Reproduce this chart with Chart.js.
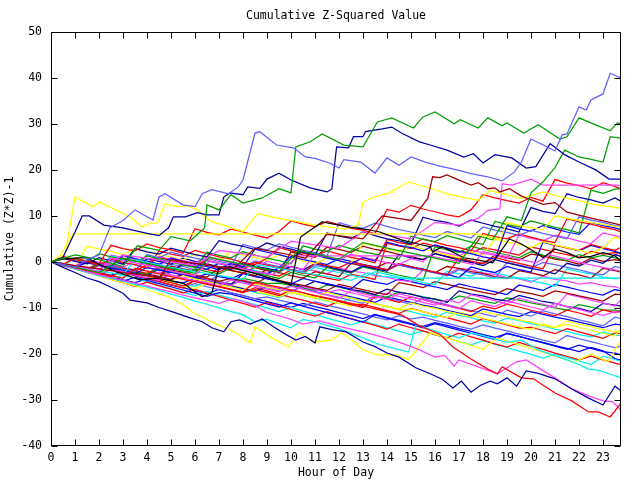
<!DOCTYPE html>
<html>
<head>
<meta charset="utf-8">
<script src="https://cdn.jsdelivr.net/npm/chart.js@4.4.1/dist/chart.umd.min.js"></script>
<style>
  body { margin: 0; background: #fff; }
  canvas { display: block; }
</style>
</head>
<body>
<canvas id="chart" width="640" height="480"></canvas>
<script>
// hours of day, sampled every half hour (last sample at 23:45)
const halfHours = [0,0.5,1,1.5,2,2.5,3,3.5,4,4.5,5,5.5,6,6.5,7,7.5,8,8.5,9,9.5,10,10.5,11,11.5,
  12,12.5,13,13.5,14,14.5,15,15.5,16,16.5,17,17.5,18,18.5,19,19.5,20,20.5,21,21.5,22,22.5,23,23.5,23.75];

const yTicks = [-40,-30,-20,-10,0,10,20,30,40,50];

// traced lines, [hour, cumulative value]
const topViolet = [[0,0],[0.5,-0.6],[1,-1.2],[1.5,0.5],[2,1.5],[2.45,7.4],[3,9],[3.5,11.3],[4,9.8],[4.25,9.1],[4.5,14.1],[4.75,14.8],[5.5,12.4],[6,12],[6.3,14.8],[6.7,15.7],[7.4,14.8],[7.8,16.3],[8,17.8],[8.5,28],[8.7,28.3],[9.4,25.4],[10.1,24.8],[10.6,22.8],[11,22.5],[11.6,21.5],[12,20.4],[12.2,22.2],[12.9,21.7],[13.5,19.3],[14,22.6],[14.5,21],[15,22.8],[15.6,21.7],[16.2,20.8],[17,19.9],[17.5,19.2],[18.2,18.5],[18.8,17.6],[19.3,19.5],[19.6,21.7],[20,26.7],[20.6,25.2],[21,24.1],[21.3,27.6],[21.5,27.8],[22,33.7],[22.3,33],[22.5,35.2],[23,36.5],[23.3,41],[23.75,40]];
const topGreen = [[0,0],[1,1.5],[2,0.5],[3,-1],[3.6,3.5],[4.5,2.5],[5,5.5],[5.8,4.6],[6.4,7.4],[6.5,12.4],[7,11.3],[7.5,14.6],[8,12.8],[8.8,13.9],[9.5,15.9],[10,15],[10.2,25],[10.8,26.1],[11.3,27.8],[12.2,25.4],[13,25],[13.6,30.4],[14.2,31.3],[15.1,29.1],[15.5,31.5],[16,32.6],[16.8,30],[17.05,30.9],[17.8,29.1],[18.2,31.3],[18.8,29.6],[19,30.2],[19.7,28],[20.3,29.8],[21.2,26.7],[21.5,27.2],[22,31.3],[22.6,30],[23.3,28.5],[23.6,30.2],[23.75,30]];
const riseGreen = [[0,0],[1,-1.2],[2,-2.3],[3,0.8],[4,-0.3],[5,-1.4],[6,-2.5],[6.6,1],[7.5,0],[8.5,-1.1],[9.5,-2.2],[10.3,2.5],[11,1.7],[12,0.6],[13,4.2],[14,3],[15,1.9],[16,0.8],[17,-0.3],[17.8,5.6],[18.4,4.8],[19,9.8],[19.6,9],[20,15],[20.5,17.4],[21,20.5],[21.4,24.3],[22,22.8],[22.5,22.3],[23,21.7],[23.3,27.2],[23.75,26.9]];
const topNavy = [[0,0],[0.5,1],[1,6.5],[1.3,10],[1.6,10],[2.2,8],[3,7.4],[3.5,6.8],[4,6.2],[4.5,5.7],[4.9,7.4],[5.1,9.8],[5.6,9.8],[6.1,10.7],[6.5,10.2],[7,10.2],[7.2,14.1],[7.45,15],[8,14.6],[8.2,16.3],[8.7,16],[9,18],[9.5,19.3],[10,17.8],[10.8,16.1],[11.5,15.2],[11.7,15.8],[11.9,25],[12.4,24.8],[12.6,27.2],[13,27.2],[13.1,28.3],[13.8,28.9],[14.2,29.3],[14.6,28],[15.35,26.1],[15.8,25.4],[16.5,24.3],[17.2,22.8],[17.6,23.5],[18,21.5],[18.5,23.3],[19.2,22.6],[19.8,20.4],[20.2,20.7],[20.8,25.7],[21.4,23.3],[22,21.7],[22.7,20],[23.25,18],[23.75,18]];
const maroonJump = [[0,0],[1,-0.8],[2,-1.5],[3,-2.3],[4,-3],[4.5,-3.5],[5,0.5],[6,-0.3],[7,-1],[7.6,-1.5],[8.5,3],[9.3,2.2],[10,1.5],[10.6,0.8],[11.5,6],[12.3,5.5],[13,5],[13.8,10],[14.4,9.5],[15,9],[15.7,13.8],[15.9,18.5],[16.2,18.3],[16.5,18.9],[16.9,18],[17.5,16.7],[17.8,17.2],[18.2,15.9],[18.5,16.1],[18.7,15.2],[19.1,15.9],[19.6,14.3],[20.5,12.5],[21,12.9],[21.5,10.8],[22.5,9.5],[23.2,8.7],[23.75,8]];
const blackLine = [[0,0],[0.5,0.6],[1.1,0.9],[1.5,0.9],[2.1,-0.8],[2.75,-2.2],[3.7,-3.9],[4.4,-3.5],[5.5,-4.6],[6.3,-7.6],[6.7,-6.7],[7,-1.3],[7.45,-1.1],[8.4,-2.4],[9.6,-4.3],[10,-5],[10.4,5.4],[11.3,8.7],[12,8],[12.5,7.5],[13.2,7],[13.7,6.5],[14.6,4.8],[15.2,4],[15.8,3.3],[15.9,2.2],[16.3,3.3],[17.2,0.9],[17.8,0.4],[18.4,-0.2],[18.7,2],[19.1,5],[19.6,3.9],[20.3,1.7],[20.5,0.9],[21,2.8],[21.5,2],[22,0.9],[22.5,1.2],[23,2],[23.5,1.3],[23.75,0.2]];
const flatYellow = [[0,0],[0.4,1.5],[0.9,6.1],[17.7,6.1],[18.2,5.5],[18.7,5],[19,8.5],[19.8,7.6],[20.5,7],[21,10],[21.8,9.2],[22.6,8.5],[23.2,8],[23.75,7.5]];
const peakYellow = [[0,0],[0.3,0.5],[0.6,2],[1,14.1],[1.75,12],[2,13],[2.7,11.3],[3.3,9.8],[3.8,7.6],[4.1,8.3],[4.45,8.5],[4.75,12.6],[5.3,12],[5.65,12.2],[6.1,11.3],[6.4,9.8],[6.7,8.7],[7.2,8],[8,6.6],[8.6,10.5],[9.3,9.7],[10,9],[10.8,8.2],[11.5,7.6],[12.3,7.2],[12.8,8],[13,13],[13.4,14],[14.1,15],[14.9,17.4],[15.8,16],[16.5,14.8],[17.2,14],[17.8,13.4],[18.3,15.5],[19,14.6],[19.6,13.8],[20.5,15.2],[21.3,14],[22,13.3],[22.6,12.5],[23.3,12],[23.75,11.6]];
const flatPink = [[0,0],[1,-1],[2,-2.1],[2.5,0.8],[3.5,-0.2],[4.5,-1.3],[5,-2],[6,-3],[6.6,0.2],[7.5,-0.9],[8.4,-2],[9.2,-2.8],[9.8,-1],[10.3,1.3],[15.8,1.3],[16.3,0.7],[17,0.1],[17.6,-0.6],[18,2.2],[18.7,1.5],[19.5,0.6],[20.2,-0.2],[20.8,1.5],[21.5,0.6],[22.2,-0.3],[23,-1.2],[23.75,-2]];
const highPink = [[0,0],[1,-0.8],[2,-1.6],[3,1.5],[4,0.8],[5,0],[6,-0.8],[7,2.5],[8,1.8],[9,1],[10,4.5],[11,3.7],[12,3],[13,6.5],[14,5.8],[15,5],[16,8.6],[17,8],[17.8,9.5],[18.2,11.2],[18.7,11.5],[18.8,17],[19.2,16.7],[20,18],[20.5,16.7],[23.75,16.7]];
const flatCyan = [[0,0],[1,-1],[2,-2],[3,-2.8],[3.5,0.5],[4.3,-0.4],[5,-1.2],[6,-2.1],[7,-3],[8,-3.8],[8.6,-0.6],[9.5,-1.4],[10.5,-2.3],[11.5,-3.2],[12.5,-4],[13.2,-2.4],[13.8,-3.1],[14.5,-3.5],[23.75,-3.5]];
const lowNavy = [[0,0],[0.5,-1.2],[1,-2.3],[1.5,-3.5],[2,-4.3],[2.5,-5.5],[3,-6.8],[3.3,-8.3],[4,-8.9],[4.5,-9.9],[5.1,-10.9],[5.7,-12],[6.3,-13],[6.7,-14.3],[7.2,-15.2],[7.5,-13],[7.85,-12.6],[8.3,-13.5],[8.8,-12.4],[9.3,-14.2],[9.8,-15.8],[10.2,-17],[10.6,-16.2],[11,-17.6],[11.2,-14.1],[11.7,-14.7],[12.3,-15.2],[13,-17.4],[13.5,-18.4],[14,-19.8],[14.5,-20.7],[15.2,-23],[15.8,-24.3],[16.3,-25.5],[16.75,-27.4],[17.1,-25.9],[17.5,-28.3],[17.9,-26.8],[18.3,-25.9],[18.6,-26.5],[19,-25.2],[19.4,-27],[19.8,-23.7],[20.3,-24.2],[21,-25.4],[21.7,-27.6],[22.4,-29.6],[23,-31.1],[23.5,-27],[23.75,-28]];
const lowRed = [[0,0],[0.5,-0.7],[1,-1.2],[1.6,-2],[2,-2.4],[2.6,-3.1],[3,-3.5],[3.5,-1.4],[4,-2],[4.6,-2.7],[5,-3.2],[5.6,-3.9],[6,-4.3],[6.6,-5],[7,-5.4],[7.5,-6],[8,-6.5],[8.5,-4.4],[9,-5],[9.6,-5.6],[10,-6.1],[10.5,-6.7],[11,-7.3],[11.6,-7.9],[12,-8.4],[12.5,-9],[13,-9.6],[13.5,-10.2],[14,-10.8],[14.6,-11.5],[15.35,-13.9],[16.2,-15.7],[16.75,-18.5],[17.5,-21.1],[18.2,-23.3],[18.6,-24.3],[18.8,-22.8],[19.6,-25.2],[20.1,-25.4],[21,-28.5],[21.7,-30.2],[22.4,-32.6],[22.8,-32.6],[23.3,-33.7],[23.75,-30.7]];
const lowPink = [[0,0],[0.5,-0.7],[1,-1.4],[1.5,-2.1],[2,-2.8],[2.5,-3.4],[3,-4],[3.5,-4.6],[4,-5.2],[4.5,-5.9],[5,-6.5],[5.5,-7.2],[6,-7.8],[6.5,-8.4],[7,-9],[7.6,-8],[8,-8.6],[8.5,-9.5],[9,-11],[9.5,-11.7],[10,-12.5],[10.5,-13.5],[11.2,-12.8],[11.6,-13.4],[12,-14],[12.5,-14.6],[13,-15.2],[13.5,-15.9],[14,-16.6],[14.7,-17.8],[15.35,-19.1],[16,-20.7],[16.4,-20.3],[16.8,-22.6],[17,-21.3],[17.8,-22.8],[18.6,-24.3],[19,-23],[19.4,-21.7],[19.8,-21.3],[20.4,-23.3],[21,-25.2],[21.7,-27.6],[22.4,-29.1],[23,-30.2],[23.4,-30.4],[23.75,-32.2]];
const lowCyan = [[0,0],[0.5,-0.8],[1,-1.5],[1.5,-2.3],[2,-3],[2.5,-3.6],[3,-4.2],[3.5,-4.9],[4,-5.5],[4.5,-6.2],[5,-7],[5.5,-7.7],[6,-8.5],[6.5,-9.2],[7,-10],[7.5,-10.8],[8,-11.5],[8.5,-13],[9,-12.5],[9.5,-13.4],[10,-14.3],[10.5,-12.5],[11,-13],[11.5,-13.8],[12,-14.5],[12.5,-15.5],[13,-16.5],[13.7,-18],[14.3,-18.8],[14.9,-19.6],[15.2,-13.7],[15.6,-14.3],[16,-15],[16.5,-15.8],[17,-16.5],[17.5,-15.5],[18,-16],[18.5,-16.8],[19,-17.5],[19.6,-17],[20.3,-19.1],[20.9,-20.2],[21.5,-21.3],[22,-22.3],[22.4,-23.3],[22.8,-23.5],[23.25,-24.3],[23.75,-25.2]];
const lowYellow = [[0,0],[0.5,-0.7],[1,-1.5],[1.5,-2.2],[2,-3],[2.5,-3.8],[3,-4.5],[3.5,-5.2],[4,-6],[4.5,-6.9],[5,-7.8],[5.5,-9.3],[5.9,-10.9],[6.5,-12.5],[7,-13.8],[7.5,-14.8],[7.85,-15.9],[8.3,-17.6],[8.5,-14.1],[9.2,-16.5],[9.9,-18.5],[10.3,-15.4],[11,-17.4],[11.7,-17],[12.1,-15.4],[12.5,-16.8],[13,-19.1],[13.6,-20.2],[14.4,-20.2],[14.9,-21.3],[15.8,-15.4],[16.5,-16.5],[17.3,-17.8],[18,-19],[18.6,-16.5],[19.5,-18],[20.3,-19.3],[21,-20.5],[21.8,-21.8],[22.5,-20],[23.2,-21.7],[23.75,-17]];

// the rest of the bundle, one value per half hour
const red1 = [0,-0.5,0.8,0.2,-0.4,3.6,2.9,2.4,3.9,3.1,2.6,1.9,7.2,6.4,5.9,7.1,6.5,5.8,5.2,6.6,8.9,8.2,7.6,8.8,8.1,7.3,6.9,6.1,11.4,10.8,12.3,11.5,10.9,10.2,9.8,11.3,14.6,13.9,13.3,12.8,14.0,13.2,17.9,17.1,16.6,15.9,17.2,16.4,15.8];
const navy1 = [0,0.8,0.1,-0.4,0.9,0.2,-0.5,2.9,2.2,1.7,3.0,2.3,1.6,1.1,4.6,3.9,3.4,2.7,4.1,3.3,2.8,2.1,1.5,6.3,5.6,5.1,6.5,5.7,5.0,4.6,3.9,9.7,9.0,8.6,7.8,9.1,8.4,7.7,7.2,6.5,11.8,11.0,10.5,14.8,14.0,13.5,12.8,13.9,13.2];
const green1 = [0,-0.6,0.7,0.1,1.8,1.1,0.6,-0.1,1.3,0.6,0.0,-0.7,-1.2,2.1,1.4,0.9,2.2,1.5,0.8,0.3,-0.4,3.5,2.8,2.3,3.6,2.9,2.2,1.7,1.0,0.6,5.6,4.9,4.4,5.7,5.0,4.3,3.8,8.8,8.1,7.6,8.9,8.2,7.5,7.0,6.3,15.6,14.9,15.8,15.9];
const violet1 = [0,-0.5,-1.1,0.3,-0.4,-0.9,-1.6,-2.1,1.6,0.9,2.1,1.4,0.8,0.3,-0.4,-0.9,3.8,3.1,2.6,3.9,3.2,2.5,2.0,1.3,8.5,7.8,7.3,8.4,7.7,7.0,6.5,5.8,5.3,6.6,5.9,5.2,7.6,6.9,6.4,5.7,6.9,6.2,5.6,5.0,9.8,9.1,8.6,7.9,7.7];
const red2 = [0,1.2,0.5,0.0,-0.7,0.6,-0.1,-0.6,-1.3,2.4,1.7,1.2,2.5,1.8,1.1,0.6,-0.1,-0.6,0.8,3.1,2.4,1.9,1.2,2.4,1.7,1.0,0.5,-0.2,4.9,4.2,3.7,5.0,4.3,3.6,3.1,2.4,6.2,5.5,5.0,6.1,5.4,4.7,4.2,9.4,8.7,8.2,7.5,7.0,6.5];
const blue1 = [0,-0.7,-1.2,0.2,-0.5,-1.1,1.4,0.7,0.2,-0.5,0.8,0.1,-0.5,-1.0,-1.7,-0.4,-1.1,2.8,2.1,1.6,0.9,2.2,1.5,0.8,0.3,-0.4,0.9,0.2,4.3,3.6,3.1,2.4,3.7,3.0,2.3,1.8,1.1,0.6,7.9,7.2,6.7,7.9,7.2,6.5,6.0,8.6,7.9,7.4,7.0];
const pink1 = [0,-0.4,-0.9,0.5,-0.1,-0.6,-1.2,0.2,-0.4,-1.0,0.9,0.3,-0.2,1.1,0.4,-0.1,-0.7,-1.2,0.1,-0.5,-1.1,-1.6,1.6,1.0,0.4,1.7,1.0,0.5,-0.2,-0.6,0.7,0.0,2.5,1.9,1.3,2.6,1.9,1.4,0.7,5.8,5.1,4.6,5.8,5.2,4.5,4.0,6.3,5.7,5.4];
const yellow1 = [0,-0.6,-1.0,3.4,2.8,2.3,1.6,2.9,2.2,1.6,1.1,0.4,1.7,1.0,0.4,2.2,1.5,1.0,0.3,1.5,0.8,0.2,-0.4,0.9,0.2,-0.3,4.1,3.4,2.9,2.2,3.5,2.8,2.2,1.6,0.9,2.2,1.5,5.0,4.3,3.8,3.1,4.4,3.7,3.1,2.5,1.8,3.1,5.4,5.0];
const red3 = [0,-0.5,-1.0,0.3,-0.3,-0.9,-1.4,-2.0,-0.6,1.0,0.3,-0.2,-0.9,0.4,-0.3,-0.8,-1.5,-0.1,-0.7,-1.3,-1.8,-2.5,-0.2,-0.8,-1.3,0.0,-0.6,-1.2,-1.7,-0.4,-1.0,-1.7,-2.2,-2.8,0.9,0.2,-0.3,1.0,0.3,-0.3,-0.9,-1.5,3.7,3.0,2.5,3.8,3.1,2.5,3.2];
const blue2 = [0,-0.8,-1.3,-0.1,-0.7,-1.4,-1.8,-2.6,-1.2,-1.8,-2.3,-0.4,-1.0,-1.6,-0.3,-1.0,-1.4,-2.1,-2.6,-1.3,1.2,0.5,0.0,-0.6,0.7,0.1,-0.6,-1.1,-1.7,-0.4,-1.1,-1.5,-2.3,-2.7,-3.4,-1.1,-1.8,-2.3,-1.0,-1.7,-2.2,4.3,3.6,3.1,2.4,3.6,2.9,2.3,1.9];
const navy2 = [0,-0.3,-0.9,0.4,-0.2,-0.7,-1.3,-1.8,0.7,0.1,-0.5,0.8,0.1,-0.4,-1.1,-1.6,-0.2,-0.9,-1.4,-2.0,-1.0,-1.7,-0.4,-1.0,-1.6,-2.2,-0.9,-1.5,-2.0,1.6,0.9,0.5,1.8,1.1,0.4,-0.1,-0.8,0.5,-0.2,-0.8,-1.4,-1.9,-2.6,-0.3,-0.9,0.4,-0.3,1.6,1.2];
const green2 = [0,-0.6,-1.2,-1.7,-0.5,-1.1,-1.6,-2.2,-2.7,-1.4,-2.0,-2.6,-1.5,-2.1,-2.6,-1.3,-1.9,-2.4,-3.0,-3.6,-2.3,-2.9,-3.5,-1.2,-1.8,-2.4,-1.1,-1.7,-2.3,-2.9,-3.4,-4.0,3.3,2.6,2.1,3.4,2.7,2.1,1.5,0.9,2.2,1.5,0.9,0.3,1.6,0.9,1.4,0.9,0.5];
const violet2 = [0,0.9,0.3,-0.2,-0.8,0.5,-0.2,-0.6,-1.3,-1.8,-0.5,-1.0,-1.7,0.8,0.1,-0.4,-1.1,0.2,-0.5,-1.0,-1.6,-2.1,-0.8,-1.2,-1.9,-2.4,-0.6,-1.2,-1.9,-0.6,-1.3,-1.8,-2.4,-3.0,-1.7,-2.4,-2.8,-3.5,-0.1,-0.7,-1.3,-0.1,-0.6,-1.2,-1.7,-2.4,-2.8,-1.0,-1.3];
const maroon1 = [0,-0.5,-1.1,0.2,-0.4,-0.9,-1.6,-2.0,-0.7,-1.1,-1.8,-2.2,-2.9,-3.3,-1.3,-1.8,-2.5,-1.2,-1.9,-2.3,-3.0,-3.5,-2.1,-2.6,-3.2,-0.3,-0.9,-1.4,-0.1,-0.7,-1.2,-1.8,-2.3,-1.0,-1.4,-2.1,-2.5,-3.2,-3.6,-1.9,-2.4,-3.0,-1.7,-2.4,-2.8,-3.5,-1.4,-1.9,-2.2];
const cyan1 = [0,-0.6,-1.1,-1.8,-2.2,1.3,0.7,0.2,-0.5,0.8,0.2,-0.4,-1.0,-1.5,-0.2,-0.8,-1.4,-1.9,-2.6,-1.3,-1.9,-2.5,-1.2,-1.8,-2.3,-2.9,-3.4,-2.1,-2.7,-3.3,-3.8,-4.5,-4.9,-2.0,-2.6,-3.1,-1.8,-2.4,-3.0,-3.5,-4.1,-4.6,-5.3,-1.5,-2.1,-2.6,-3.3,-3.7,-3.4];
const red4 = [0,-0.4,-1.0,-1.5,-0.3,-0.8,-1.4,-1.9,-2.5,-1.2,-1.8,-0.6,-1.1,-1.7,-2.2,-0.9,-1.4,-2.0,-2.5,-3.1,-1.8,-2.4,-2.9,-3.5,-4.0,-2.7,-3.2,-3.8,4.0,3.5,2.9,4.1,3.5,3.0,2.4,1.9,3.1,2.6,2.0,1.5,3.2,2.7,2.1,1.6,1.0,2.3,1.7,2.0,1.8];
const maroon2 = [0,-0.7,-1.3,-1.9,-0.6,-1.3,-1.7,-2.4,-2.8,-3.5,-0.9,-1.5,-2.0,-0.7,-1.2,-1.9,-2.3,-3.0,-1.7,-2.4,2.2,1.5,1.0,3.2,2.7,2.1,3.4,2.7,2.3,1.6,1.2,0.5,1.8,1.2,0.7,0.0,-0.4,1.5,0.9,0.4,1.7,1.3,0.6,0.2,-0.5,0.8,0.1,0.5,0.2];
const pink2 = [0,-0.4,-1.1,-1.4,-2.1,1.5,0.9,0.6,-0.1,1.2,0.5,0.2,-0.5,-0.8,-1.5,-0.2,-0.9,-1.2,-1.9,-2.2,-1.0,-1.6,-1.9,-2.6,-1.3,-2.0,-2.3,-3.0,-3.3,-4.0,-4.3,-1.8,-2.4,-2.7,-1.4,-1.7,-2.4,-2.7,-3.4,-3.7,-4.4,-3.1,-3.8,-4.1,-4.8,-4.5,-5.1,-5.4,-5.8];
const pink3 = [0,-0.7,-1.3,-2.0,-0.8,-1.5,-2.1,-2.8,-3.4,-2.2,-2.8,-3.5,-4.1,-4.5,-5.2,-3.9,-4.6,-5.2,-5.9,-6.5,-5.3,-5.9,-6.6,-7.2,-7.9,-6.2,-6.9,-7.5,-8.2,-6.9,-7.6,-8.2,-8.9,-9.5,-10.2,-8.4,-9.1,-9.7,-8.5,-9.1,-9.8,-10.4,-9.0,-9.7,-10.3,-11.0,-11.6,-10.8,-11.0];
const yellow2 = [0,-0.5,-1.2,-1.7,-2.4,-1.2,-1.9,-2.4,-3.1,-3.6,-4.3,-3.0,-3.7,-4.2,-4.9,-5.4,-6.1,-4.8,-5.5,-6.0,-6.7,-7.2,-7.9,-6.6,-7.3,-7.8,-8.5,-9.0,-9.7,-10.2,-8.9,-9.6,-10.1,-10.8,-11.3,-12.0,-10.7,-11.4,-11.9,-12.6,-13.1,-13.8,-14.3,-12.8,-13.5,-14.0,-14.7,-15.2,-15.0];
const blue3 = [0,-0.6,-1.2,-1.8,-0.6,-1.1,-1.7,-2.3,-2.9,-1.6,-2.2,-2.8,-3.4,-2.6,-3.2,-3.7,-2.5,-3.1,-3.7,-4.2,-4.8,-3.6,-4.2,-4.7,-5.3,-5.9,-3.8,-4.4,-4.9,-3.7,-4.3,-4.9,-5.4,-6.0,-4.8,-5.4,-5.9,-6.5,-7.1,-5.0,-5.6,-6.2,-4.9,-5.5,-6.1,-6.7,-7.2,-6.0,-6.3];
const maroon3 = [0,-0.5,-1.1,-1.6,-2.2,-1.0,-1.5,-2.1,-2.6,-3.2,-3.8,-2.5,-3.1,-3.6,-4.2,-3.6,-4.1,-4.7,-3.4,-4.0,-4.6,-5.1,-5.7,-6.2,-4.9,-5.5,-6.0,-6.6,-7.1,-4.5,-5.0,-5.6,-4.3,-4.9,-5.5,-6.0,-6.6,-7.1,-5.8,-6.4,-6.9,-7.5,-6.3,-6.8,-7.4,-7.9,-8.5,-7.0,-7.1];
const pink4 = [0,-0.7,-1.3,-2.0,-2.6,-1.4,-2.0,-2.7,-3.3,-4.0,-2.8,-3.5,-3.1,-3.8,-4.4,-5.1,-3.9,-4.6,-5.2,-5.9,-6.5,-5.3,-6.0,-6.6,-6.0,-6.7,-7.3,-8.0,-6.8,-7.5,-8.1,-8.8,-9.4,-8.2,-8.9,-7.1,-7.8,-8.4,-9.1,-7.9,-8.6,-9.2,-9.9,-7.0,-7.6,-8.3,-8.9,-9.6,-8.2];
const navy3 = [0,-0.4,-1.1,-1.5,-2.2,-1.0,-1.7,-2.1,-2.8,-3.2,-3.9,-2.7,-3.4,-3.8,-4.5,-4.9,-2.5,-3.2,-3.6,-4.3,-4.7,-5.4,-4.2,-4.9,-5.3,-6.0,-6.4,-7.1,-5.9,-6.6,-7.0,-7.7,-8.1,-8.8,-6.3,-7.0,-7.4,-8.1,-8.5,-7.3,-7.9,-8.6,-9.0,-9.7,-10.1,-10.8,-9.0,-9.4,-9.6];
const red5 = [0,-0.6,-1.3,-1.9,-2.5,-3.2,-2.0,-2.6,-3.3,-3.9,-4.5,-5.2,-4.0,-4.6,-5.3,-5.9,-6.5,-6.0,-6.6,-7.3,-6.1,-6.7,-7.4,-8.0,-8.6,-9.3,-9.9,-7.5,-8.1,-8.8,-7.6,-8.2,-8.9,-9.5,-10.1,-10.8,-9.6,-10.2,-9.2,-9.8,-10.5,-11.1,-11.7,-10.5,-11.1,-11.8,-10.4,-11.0,-10.6];
const green3 = [0,-0.5,-1.0,-1.6,-0.5,-1.0,-1.6,-2.1,-2.7,-3.2,-2.0,-2.6,-3.1,-3.7,-4.2,-4.8,-3.6,-4.1,-4.7,-4.6,-5.1,-5.7,-6.2,-5.0,-5.5,-6.1,-6.6,-7.2,-7.7,-6.5,-7.0,-7.6,-8.1,-8.7,-7.4,-7.9,-8.5,-9.0,-7.8,-8.3,-8.9,-9.4,-10.0,-10.5,-9.3,-9.8,-10.4,-10.5,-10.8];
const violet3 = [0,-0.7,-1.3,-2.0,-2.6,-1.5,-2.1,-2.8,-3.4,-4.1,-2.2,-2.9,-3.5,-4.2,-3.0,-3.7,-4.3,-5.0,-5.6,-6.3,-5.1,-5.8,-6.4,-7.1,-7.7,-8.4,-9.0,-7.2,-7.9,-8.5,-9.2,-8.0,-8.7,-9.3,-10.0,-10.6,-11.3,-11.9,-10.5,-11.2,-11.8,-10.6,-11.3,-11.9,-12.6,-13.2,-13.9,-12.0,-12.3];
const blue4 = [0,-0.6,-1.2,-1.7,-2.3,-2.9,-1.8,-2.3,-2.9,-3.5,-4.1,-4.6,-3.5,-4.1,-4.7,-5.2,-5.8,-6.4,-5.3,-5.8,-6.4,-5.3,-5.9,-6.5,-7.0,-7.6,-8.2,-8.8,-7.6,-8.2,-8.8,-9.4,-9.9,-10.5,-11.1,-11.7,-10.2,-10.8,-11.4,-11.9,-10.8,-11.4,-12.0,-12.5,-13.1,-13.7,-14.3,-13.5,-13.7];
const yellow3 = [0,-0.6,-1.3,-1.9,-2.5,-3.2,-2.0,-2.6,-3.3,-3.9,-4.5,-5.2,-5.8,-4.6,-5.3,-5.1,-5.7,-6.4,-7.0,-7.6,-6.5,-7.1,-7.7,-8.4,-9.0,-9.6,-8.5,-9.1,-9.7,-10.4,-10.2,-10.8,-11.5,-12.1,-10.9,-11.6,-12.2,-12.8,-13.5,-14.1,-14.7,-13.5,-14.2,-13.6,-14.2,-14.9,-15.5,-16.1,-14.4];
const red6 = [0,-0.7,-1.4,-2.0,-2.7,-1.6,-2.3,-3.0,-3.6,-4.3,-5.0,-5.7,-4.0,-4.7,-5.4,-6.0,-6.7,-5.6,-6.3,-7.0,-7.7,-8.3,-9.0,-9.7,-8.5,-9.2,-9.2,-9.9,-10.6,-11.2,-10.1,-10.8,-11.5,-12.1,-12.8,-13.5,-12.3,-13.0,-13.7,-14.4,-14.2,-14.9,-15.6,-14.5,-15.2,-15.9,-16.6,-15.4,-15.6];
const cyan2 = [0,-0.6,-1.2,-1.8,-2.3,-3.0,-3.5,-2.4,-2.9,-3.6,-4.1,-4.8,-5.3,-4.2,-4.7,-5.4,-5.9,-6.6,-7.1,-7.8,-6.6,-7.3,-7.8,-8.5,-9.0,-7.9,-8.4,-9.1,-9.6,-10.3,-10.8,-11.5,-12.0,-10.9,-11.6,-12.1,-12.8,-13.3,-12.2,-12.7,-13.4,-13.9,-14.6,-15.1,-15.8,-16.3,-15.2,-15.9,-16.0];
const blue5 = [0,-0.7,-1.4,-2.1,-2.8,-3.5,-4.2,-3.3,-4.0,-4.7,-5.4,-6.1,-6.8,-7.5,-6.7,-7.0,-7.7,-8.4,-9.1,-9.8,-8.9,-9.6,-10.3,-11.0,-11.7,-12.4,-13.1,-11.5,-12.2,-12.9,-13.6,-14.3,-13.4,-14.1,-14.8,-15.5,-16.2,-16.9,-15.5,-16.2,-16.9,-17.6,-18.3,-19.0,-18.1,-18.8,-19.5,-19.8,-20.2];
const red7 = [0,-0.8,-1.5,-2.3,-3.0,-3.8,-4.5,-5.3,-4.4,-5.2,-5.9,-6.7,-6.0,-6.8,-7.5,-8.3,-9.0,-9.8,-8.8,-9.6,-10.3,-11.1,-11.8,-10.8,-11.6,-12.3,-13.1,-13.8,-14.6,-13.5,-14.3,-15.0,-15.8,-16.5,-15.5,-16.3,-17.0,-17.8,-18.5,-17.5,-18.3,-19.0,-19.8,-20.5,-21.3,-20.5,-21.3,-22.0,-22.3];
const violet4 = [0,-0.6,-1.3,-1.9,-2.6,-1.7,-2.4,-3.0,-3.7,-4.3,-5.0,-5.6,-4.7,-5.4,-6.0,-6.7,-7.3,-8.0,-7.6,-8.3,-8.9,-9.6,-8.7,-9.4,-10.0,-10.7,-11.3,-12.0,-12.6,-11.7,-12.4,-12.0,-12.7,-13.3,-14.0,-14.6,-13.7,-14.4,-15.0,-15.7,-16.3,-17.0,-17.6,-16.0,-16.7,-17.3,-18.0,-18.6,-18.3];
const cyan3 = [0,-0.7,-1.5,-2.2,-3.0,-3.7,-2.8,-3.6,-4.3,-5.1,-5.8,-6.6,-7.3,-6.4,-7.2,-7.9,-8.5,-9.3,-10.0,-10.8,-9.9,-10.7,-11.4,-12.2,-12.9,-13.7,-12.8,-13.6,-14.3,-15.1,-15.8,-15.0,-15.8,-16.5,-17.3,-18.0,-17.1,-17.9,-18.6,-19.4,-20.1,-20.9,-20.0,-20.8,-21.5,-22.3,-20.5,-21.2,-21.6];
const blue6 = [0,-0.6,-1.3,-1.9,-2.6,-3.2,-3.9,-4.5,-3.7,-4.3,-5.0,-5.6,-6.3,-6.9,-6.0,-6.7,-7.3,-8.0,-8.6,-9.3,-9.9,-9.0,-9.7,-10.3,-11.0,-11.6,-12.3,-11.4,-12.1,-12.7,-13.4,-14.0,-13.2,-13.8,-14.5,-15.1,-15.8,-16.4,-15.6,-16.2,-16.9,-17.5,-18.2,-18.8,-19.5,-18.6,-19.3,-21.0,-21.4];

const palette = {
  red: '#ff0000', maroon: '#a00000', green: '#00a000', blue: '#0000ff', navy: '#0000a0',
  violet: '#6060ff', pink: '#ff40ff', cyan: '#00f0f0', yellow: '#ffff00', black: '#000000'
};

const traced = [
  [topViolet, 'violet'], [topGreen, 'green'], [topNavy, 'navy'], [riseGreen, 'green'],
  [maroonJump, 'maroon'], [blackLine, 'black'], [peakYellow, 'yellow'], [flatYellow, 'yellow'],
  [highPink, 'pink'], [flatPink, 'pink'], [flatCyan, 'cyan'], [lowNavy, 'navy'],
  [lowRed, 'red'], [lowPink, 'pink'], [lowCyan, 'cyan'], [lowYellow, 'yellow']
];
const sampled = [
  [red1, 'red'], [navy1, 'navy'], [green1, 'green'], [violet1, 'violet'], [red2, 'red'], [blue1, 'blue'],
  [pink1, 'pink'], [yellow1, 'yellow'], [red3, 'red'], [blue2, 'blue'], [navy2, 'navy'], [green2, 'green'],
  [violet2, 'violet'], [maroon1, 'maroon'], [cyan1, 'cyan'], [red4, 'red'], [maroon2, 'maroon'], [pink2, 'pink'],
  [pink3, 'pink'], [yellow2, 'yellow'], [blue3, 'blue'], [maroon3, 'maroon'], [pink4, 'pink'], [navy3, 'navy'],
  [red5, 'red'], [green3, 'green'], [violet3, 'violet'], [blue4, 'blue'], [yellow3, 'yellow'], [red6, 'red'],
  [cyan2, 'cyan'], [blue5, 'blue'], [red7, 'red'], [violet4, 'violet'], [cyan3, 'cyan'], [blue6, 'blue']
];

function lineSet(points, colour) {
  return {
    data: points,
    borderColor: palette[colour],
    borderWidth: 1.25,
    pointRadius: 0,
    tension: 0,
    fill: false
  };
}

const datasets = [];
traced.forEach(([pts, c]) => datasets.push(lineSet(pts.map(p => ({ x: p[0], y: p[1] })), c)));
sampled.forEach(([vals, c]) => datasets.push(lineSet(vals.map((v, i) => ({ x: halfHours[i], y: v })), c)));

// gnuplot style frame: box round the plot with tics pointing inwards on all four sides
const innerTics = {
  id: 'innerTics',
  afterDatasetsDraw(chart) {
    const { ctx, chartArea: a, scales } = chart;
    const L = Math.round(a.left) + 0.5, R = Math.round(a.right) - 0.5;
    const T = Math.round(a.top) + 0.5, B = Math.round(a.bottom) - 0.5;
    ctx.save();
    ctx.strokeStyle = '#000';
    ctx.lineWidth = 1;
    ctx.beginPath();
    ctx.rect(L, T, R - L, B - T);
    scales.x.ticks.forEach(t => {
      const px = Math.round(scales.x.getPixelForValue(t.value)) + 0.5;
      ctx.moveTo(px, B); ctx.lineTo(px, B - 6);
      ctx.moveTo(px, T); ctx.lineTo(px, T + 6);
    });
    scales.y.ticks.forEach(t => {
      const py = Math.round(scales.y.getPixelForValue(t.value)) + 0.5;
      ctx.moveTo(L, py); ctx.lineTo(L + 6, py);
      ctx.moveTo(R, py); ctx.lineTo(R - 6, py);
    });
    ctx.stroke();
    ctx.restore();
  }
};

Chart.defaults.font.family = "'DejaVu Sans Mono', monospace";
Chart.defaults.font.size = 11.5;
Chart.defaults.color = '#000';

new Chart(document.getElementById('chart'), {
  type: 'line',
  data: { datasets },
  options: {
    responsive: false,
    animation: false,
    events: [],
    layout: { padding: { left: 0, right: 19, top: 0, bottom: 0 } },
    plugins: {
      legend: { display: false },
      tooltip: { enabled: false },
      title: {
        display: true,
        text: 'Cumulative Z-Squared Value',
        fullSize: false,
        font: { size: 11.5, weight: 'normal' },
        padding: { top: 9, bottom: 9 }
      }
    },
    scales: {
      x: {
        type: 'linear',
        min: 0,
        max: 23.75,
        grid: { display: false, drawTicks: false },
        border: { display: false },
        ticks: { stepSize: 1, includeBounds: false, autoSkip: false, maxRotation: 0, padding: 5 },
        title: { display: true, text: 'Hour of Day', padding: { top: 0, bottom: 0 } },
        afterFit: s => { s.height = 34; }
      },
      y: {
        min: yTicks[0],
        max: yTicks[yTicks.length - 1],
        grid: { display: false, drawTicks: false },
        border: { display: false },
        ticks: { stepSize: 10, padding: 9 },
        title: { display: true, text: 'Cumulative (Z*Z)-1', padding: { top: 3.5, bottom: 0 } },
        afterFit: s => { s.width = 51; }
      }
    }
  },
  plugins: [innerTics]
});
</script>
</body>
</html>
